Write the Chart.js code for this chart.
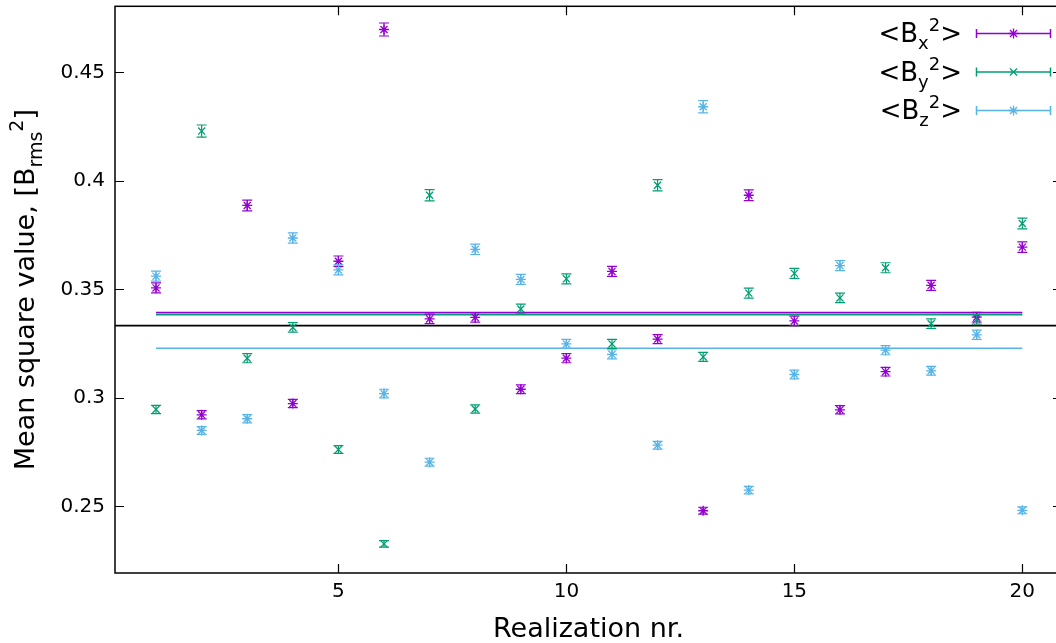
<!DOCTYPE html>
<html>
<head>
<meta charset="utf-8">
<script src="https://cdn.jsdelivr.net/npm/chart.js@4.4.1/dist/chart.umd.min.js"></script>
<style>
  html, body { margin: 0; padding: 0; background: #fff; overflow: hidden; }
</style>
</head>
<body>
<canvas id="msq" width="1072" height="643"></canvas>
<script>
// Mean square field components per realization, with their errors
const realizations = [1, 2, 3, 4, 5, 6, 7, 8, 9, 10, 11, 12, 13, 14, 15, 16, 17, 18, 19, 20];

const bx2 = [0.3507, 0.2922, 0.3887, 0.2974, 0.3630, 0.4698, 0.3364, 0.3371, 0.3040, 0.3183,
             0.3583, 0.3271, 0.2480, 0.3934, 0.3355, 0.2945, 0.3121, 0.3519, 0.3372, 0.3695];
const bx2Err = [0.0023, 0.0019, 0.0025, 0.0019, 0.0024, 0.0030, 0.0022, 0.0022, 0.0020, 0.0021,
                0.0023, 0.0021, 0.0016, 0.0025, 0.0022, 0.0019, 0.0020, 0.0023, 0.0022, 0.0024];

const by2 = [0.2947, 0.4230, 0.3183, 0.3325, 0.2762, 0.2327, 0.3934, 0.2949, 0.3410, 0.3549,
             0.3249, 0.3980, 0.3189, 0.3483, 0.3574, 0.3461, 0.3600, 0.3342, 0.3362, 0.3804];
const by2Err = [0.0019, 0.0028, 0.0021, 0.0022, 0.0018, 0.0015, 0.0026, 0.0019, 0.0022, 0.0023,
                0.0021, 0.0026, 0.0021, 0.0023, 0.0023, 0.0022, 0.0023, 0.0022, 0.0022, 0.0025];

const bz2 = [0.3561, 0.2850, 0.2904, 0.3737, 0.3590, 0.3020, 0.2704, 0.3685, 0.3546, 0.3249,
             0.3201, 0.2782, 0.4342, 0.2575, 0.3108, 0.3610, 0.3220, 0.3125, 0.3291, 0.2482];
const bz2Err = [0.0023, 0.0018, 0.0019, 0.0024, 0.0023, 0.0020, 0.0018, 0.0024, 0.0023, 0.0021,
                0.0021, 0.0018, 0.0028, 0.0017, 0.0020, 0.0023, 0.0021, 0.0020, 0.0021, 0.0016];

// averages over all realizations, and the isotropic level 1/3
const bx2Mean = 0.3393;
const by2Mean = 0.3383;
const bz2Mean = 0.3229;
const isoLevel = 0.3333;

const xTicks = [5, 10, 15, 20];
const yTicks = [0.25, 0.3, 0.35, 0.4, 0.45];
const xRange = [0.1, 20.87];
const yRange = [0.2193, 0.4805];

const PURPLE = '#9400d3';
const GREEN = '#009e73';
const BLUE = '#56b4e9';
const FONT = '"DejaVu Sans", sans-serif';

const points = (vals) => realizations.map((x, i) => ({ x, y: vals[i] }));
const hline = (y, x0, x1) => [{ x: x0, y }, { x: x1, y }];

// draws text made of pieces with sub- and superscripts
function drawRich(ctx, parts, x, y, size, align) {
  const small = Math.round(size * 0.7);
  const widthOf = (p) => {
    ctx.font = `${p.sub || p.sup ? small : size}px ${FONT}`;
    return ctx.measureText(p.t).width;
  };
  const total = parts.reduce((s, p) => s + widthOf(p), 0);
  let cx = align === 'right' ? x - total : align === 'center' ? x - total / 2 : x;
  ctx.textAlign = 'left';
  ctx.textBaseline = 'alphabetic';
  parts.forEach((p) => {
    const w = widthOf(p);
    const dy = p.sub ? size * 0.28 : p.sup ? -size * 0.42 : 0;
    ctx.fillText(p.t, cx, y + dy);
    cx += w;
  });
}

const errorBars = {
  id: 'errorBars',
  afterDatasetsDraw(chart) {
    const { ctx, scales: { x, y } } = chart;
    const sets = [[bx2, bx2Err, PURPLE], [by2, by2Err, GREEN], [bz2, bz2Err, BLUE]];
    ctx.save();
    ctx.lineWidth = 1.2;
    sets.forEach(([vals, errs, color]) => {
      ctx.strokeStyle = color;
      realizations.forEach((r, i) => {
        const px = x.getPixelForValue(r);
        const top = y.getPixelForValue(vals[i] + errs[i]);
        const bot = y.getPixelForValue(vals[i] - errs[i]);
        ctx.beginPath();
        ctx.moveTo(px, top); ctx.lineTo(px, bot);
        ctx.moveTo(px - 5, top); ctx.lineTo(px + 5, top);
        ctx.moveTo(px - 5, bot); ctx.lineTo(px + 5, bot);
        ctx.stroke();
      });
    });
    ctx.restore();
  }
};

const frame = {
  id: 'frame',
  afterDraw(chart) {
    const { ctx, chartArea: a, scales: { x, y } } = chart;
    ctx.save();
    ctx.strokeStyle = '#000';
    ctx.lineWidth = 1.5;
    ctx.strokeRect(a.left, a.top, a.right - a.left, a.bottom - a.top);
    // inward ticks, mirrored on top and right
    ctx.lineWidth = 1.2;
    ctx.beginPath();
    xTicks.forEach((v) => {
      const px = Math.round(x.getPixelForValue(v)) + 0.5;
      ctx.moveTo(px, a.bottom); ctx.lineTo(px, a.bottom - 9);
      ctx.moveTo(px, a.top); ctx.lineTo(px, a.top + 9);
    });
    yTicks.forEach((v) => {
      const py = Math.round(y.getPixelForValue(v)) + 0.5;
      ctx.moveTo(a.left, py); ctx.lineTo(a.left + 9, py);
      ctx.moveTo(a.right, py); ctx.lineTo(a.right - 9, py);
    });
    ctx.stroke();

    // axis titles
    ctx.fillStyle = '#000';
    drawRich(ctx, [{ t: 'Realization nr.' }], (a.left + a.right) / 2, 637, 27, 'center');
    ctx.save();
    ctx.translate(34, (a.top + a.bottom) / 2);
    ctx.rotate(-Math.PI / 2);
    drawRich(ctx, [{ t: 'Mean square value, [B' }, { t: 'rms', sub: true }, { t: '2', sup: true }, { t: ']' }],
      0, 0, 27, 'center');
    ctx.restore();

    // key
    const entries = [['x', PURPLE, 'star'], ['y', GREEN, 'crossRot'], ['z', BLUE, 'star']];
    entries.forEach(([c, color, style], i) => {
      const cy = 33 + i * 38.5;
      ctx.fillStyle = '#000';
      drawRich(ctx, [{ t: '<B' }, { t: c, sub: true }, { t: '2', sup: true }, { t: '>' }], 962, cy + 9, 26, 'right');
      ctx.strokeStyle = color;
      ctx.lineWidth = 1.5;
      ctx.beginPath();
      ctx.moveTo(976, cy + 0.5); ctx.lineTo(1051, cy + 0.5);
      ctx.moveTo(976.5, cy - 4); ctx.lineTo(976.5, cy + 5);
      ctx.moveTo(1050.5, cy - 4); ctx.lineTo(1050.5, cy + 5);
      ctx.stroke();
      ctx.lineWidth = 1.3;
      Chart.helpers.drawPoint(ctx, { pointStyle: style, radius: 5, borderWidth: 1.3 }, 1013.5, cy + 0.5);
    });
    ctx.restore();
  }
};

const lineSet = (data, color, width) => ({
  type: 'line', data, borderColor: color, borderWidth: width,
  pointRadius: 0, fill: false, order: 2
});
const pointSet = (vals, color, style) => ({
  type: 'scatter', data: points(vals), borderColor: color, backgroundColor: color,
  pointStyle: style, pointRadius: 5, borderWidth: 1.3, order: 1
});

new Chart(document.getElementById('msq'), {
  data: {
    datasets: [
      pointSet(bx2, PURPLE, 'star'),
      pointSet(by2, GREEN, 'crossRot'),
      pointSet(bz2, BLUE, 'star'),
      lineSet(hline(bx2Mean, 1, 20), PURPLE, 1.6),
      lineSet(hline(by2Mean, 1, 20), GREEN, 1.6),
      lineSet(hline(bz2Mean, 1, 20), BLUE, 1.6),
      lineSet(hline(isoLevel, xRange[0], xRange[1]), '#000', 1.6)
    ]
  },
  options: {
    responsive: false,
    animation: false,
    devicePixelRatio: 1,
    layout: { padding: { top: -2, right: 10, left: 0, bottom: 0 } },
    plugins: { legend: { display: false }, tooltip: { enabled: false } },
    scales: {
      x: {
        type: 'linear', min: xRange[0], max: xRange[1],
        grid: { display: false, drawTicks: false },
        border: { display: false },
        afterBuildTicks: (s) => { s.ticks = xTicks.map((value) => ({ value })); },
        afterFit: (s) => { s.height = 70; s.paddingLeft = 0; s.paddingRight = 0; },
        ticks: { padding: 7, color: '#000', font: { family: FONT, size: 20 }, maxRotation: 0, callback: (v) => String(v) }
      },
      y: {
        type: 'linear', min: yRange[0], max: yRange[1],
        grid: { display: false, drawTicks: false },
        border: { display: false },
        afterBuildTicks: (s) => { s.ticks = yTicks.map((value) => ({ value })); },
        afterFit: (s) => { s.width = 115; s.paddingTop = 0; s.paddingBottom = 0; },
        ticks: { padding: 10, color: '#000', font: { family: FONT, size: 20 }, callback: (v) => String(v) }
      }
    }
  },
  plugins: [errorBars, frame]
});
</script>
</body>
</html>
